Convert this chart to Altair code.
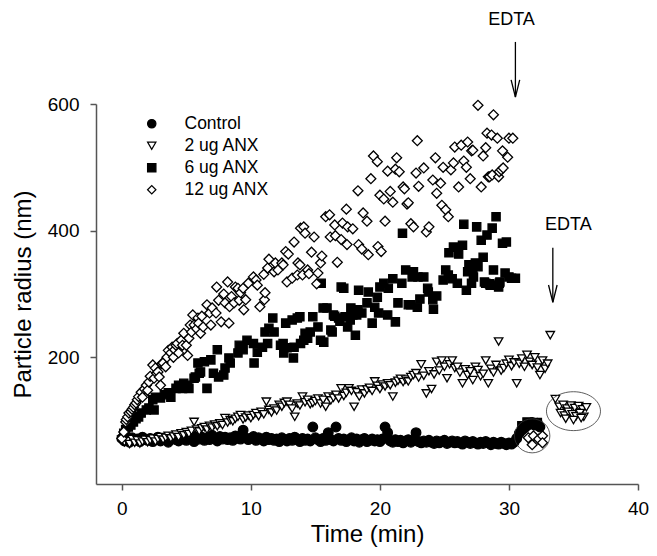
import altair as alt
import pandas as pd

series_names = ["Control", "2 ug ANX", "6 ug ANX", "12 ug ANX"]
series_shapes = ["circle", "triangle-down", "square", "diamond"]
series_fills = ["black", "white", "black", "white"]
marker_sizes = {"Control": 92, "2 ug ANX": 72, "6 ug ANX": 68, "12 ug ANX": 98}

# shared sampling times (min) for Control and 2 ug ANX
grid_t = [
    0.0, 0.2, 0.4, 0.6, 0.8, 1.0, 1.2, 1.4, 1.6, 1.8,
    2.0, 2.2, 2.4, 2.6, 2.8, 3.0, 3.2, 3.4, 3.6, 3.8,
    4.0, 4.2, 4.4, 4.6, 4.8, 5.0, 5.2, 5.4, 5.6, 5.8,
    6.0, 6.2, 6.4, 6.6, 6.8, 7.0, 7.2, 7.4, 7.6, 7.8,
    8.0, 8.2, 8.4, 8.6, 8.8, 9.0, 9.2, 9.4, 9.6, 9.8,
    10.0, 10.2, 10.4, 10.6, 10.8, 11.0, 11.2, 11.4, 11.6, 11.8,
    12.0, 12.2, 12.4, 12.6, 12.8, 13.0, 13.2, 13.4, 13.6, 13.8,
    14.0, 14.2, 14.4, 14.6, 14.8, 15.0, 15.2, 15.4, 15.6, 15.8,
    16.0, 16.2, 16.4, 16.6, 16.8, 17.0, 17.2, 17.4, 17.6, 17.8,
    18.0, 18.2, 18.4, 18.6, 18.8, 19.0, 19.2, 19.4, 19.6, 19.8,
    20.0, 20.2, 20.4, 20.6, 20.8, 21.0, 21.2, 21.4, 21.6, 21.8,
    22.0, 22.2, 22.4, 22.6, 22.8, 23.0, 23.2, 23.4, 23.6, 23.8,
    24.0, 24.2, 24.4, 24.6, 24.8, 25.0, 25.2, 25.4, 25.6, 25.8,
    26.0, 26.2, 26.4, 26.6, 26.8, 27.0, 27.2, 27.4, 27.6, 27.8,
    28.0, 28.2, 28.4, 28.6, 28.8, 29.0, 29.2, 29.4, 29.6, 29.8,
    30.0, 30.2, 30.4,
]

control_r = [
    72, 68, 70, 66, 73, 69, 71, 67, 74, 70,
    69, 72, 67, 71, 74, 68, 70, 73, 66, 71,
    73, 70, 68, 75, 71, 69, 74, 72, 67, 76,
    71, 74, 69, 73, 70, 77, 72, 68, 75, 71,
    74, 70, 73, 69, 76, 72, 71, 85, 73, 70,
    72, 75, 69, 73, 71, 68, 74, 70, 72, 69,
    71, 67, 73, 70, 68, 72, 69, 74, 70, 67,
    72, 69, 71, 68, 90, 73, 70, 67, 72, 69,
    81, 70, 68, 90, 72, 69, 71, 67, 70, 73,
    68, 71, 66, 70, 72, 67, 69, 71, 68, 70,
    67, 71, 90, 81, 68, 66, 70, 67, 69, 65,
    68, 70, 66, 69, 81, 67, 65, 68, 66, 69,
    66, 64, 68, 65, 67, 69, 64, 66, 68, 65,
    67, 65, 63, 68, 66, 64, 67, 65, 63, 66,
    64, 67, 65, 62, 66, 64, 63, 66, 64, 62,
    65, 63, 66,
]
control_post_t = [30.6, 30.8, 31.0, 31.2, 31.4, 31.6, 31.8, 32.0, 32.2, 32.4]
control_post_r = [72, 80, 85, 88, 92, 95, 97, 93, 96, 90]

ug2_r = [
    70, 66, 68, 63, 71, 65, 69, 64, 67, 70,
    66, 69, 72, 67, 71, 74, 70, 73, 76, 72,
    75, 78, 74, 80, 77, 82, 79, 84, 98, 86,
    83, 88, 90, 86, 92, 89, 94, 91, 96, 93,
    104, 97, 101, 99, 103, 106, 109, 102, 105, 108,
    104, 109, 112, 107, 114, 110, 130, 117, 113, 119,
    116, 125, 122, 128, 130, 125, 119, 106, 127, 124,
    138, 129, 133, 126, 128, 131, 135, 127, 133, 122,
    138, 132, 136, 141, 135, 151, 139, 144, 151, 147,
    122, 145, 138, 149, 143, 149, 152, 147, 162, 155,
    150, 157, 154, 159, 156, 138, 160, 163, 166, 161,
    165, 162, 169, 172, 175, 168, 189, 171, 143, 178,
    150, 173, 193, 179, 195, 185, 167, 189, 195, 183,
    185, 176, 159, 181, 172, 178, 164, 185, 180, 170,
    174, 195, 159, 182, 176, 188, 225, 179, 183, 190,
    196, 186, 192,
]
ug2_late_t = [30.6, 30.8, 31.0, 31.2, 31.4, 31.6, 31.8, 32.0, 32.2, 32.4, 32.6, 32.8, 33.0, 33.2]
ug2_late_r = [159, 190, 198, 185, 204, 193, 188, 200, 184, 172, 195, 182, 190, 235]
ug2_post_t = [33.6, 33.9, 34.2, 34.5, 34.8, 35.1, 35.4, 35.7, 36.0,
              34.0, 34.3, 34.6, 34.9, 35.2, 35.5, 35.8, 34.4, 35.0, 35.6]
ug2_post_r = [134, 122, 125, 119, 124, 120, 123, 118, 121,
              112, 108, 114, 110, 107, 112, 106, 103, 101, 104]

ug6_t = [
    0.15, 0.3, 0.5, 0.7, 0.9, 1.1, 1.3, 1.5, 1.9, 2.1, 2.5, 2.4, 2.6, 3.0, 3.3, 3.6, 3.8,
    4.2, 4.4, 4.7, 4.8, 5.1, 5.2, 5.6, 5.7, 5.9, 6.0, 6.1, 6.4, 6.6, 6.9, 7.1, 7.4, 7.5,
    7.9, 8.0, 8.3, 8.4, 9.0, 9.1, 9.4, 9.7, 10.2, 10.25, 10.5, 10.9, 11.1, 11.3, 11.4,
    11.7, 11.8, 12.3, 12.5, 12.55, 12.7, 12.8, 13.2, 13.3, 13.35, 13.6, 13.8, 13.85,
    14.1, 14.2, 14.4, 14.6, 14.8, 15.2, 15.4, 15.45, 15.6, 15.65, 15.9, 16.2, 16.3,
    16.4, 16.5, 16.8, 16.9, 17.0, 17.2, 17.3, 17.5, 17.7, 17.75, 17.9, 18.1, 18.2, 18.3,
    18.35, 18.6, 19.0, 19.1, 19.4, 19.6, 19.8, 19.9, 20.0, 20.3, 20.6, 20.65, 21.0,
    21.2, 21.4, 21.7, 21.75, 22.0, 22.2, 22.4, 22.5, 22.6, 22.9, 22.95, 23.1, 23.4,
    23.7, 23.75, 24.1, 24.15, 24.4, 24.9, 25.1, 25.3, 25.35, 25.6, 25.7, 26.0, 26.1,
    26.4, 26.5, 26.7, 26.8, 26.9, 27.1, 27.15, 27.2, 27.25, 27.4, 27.5, 27.6, 27.85,
    28.0, 28.1, 28.2, 28.3, 28.5, 28.55, 28.7, 28.8, 29.0, 29.2, 29.25, 29.3, 29.5,
    29.7, 29.8, 30.0, 30.2, 30.5,
]
ug6_r = [
    80, 86, 90, 93, 98, 103, 106, 112, 117, 120, 117, 133, 137, 136, 141, 144, 137,
    151, 156, 151, 159, 156, 151, 167, 169, 191, 175, 177, 193, 151, 196, 175, 212, 169,
    172, 183, 199, 191, 207, 219, 212, 227, 222, 191, 208, 216, 240, 222, 246,
    262, 240, 219, 222, 207, 254, 215, 259, 199, 216, 262, 264, 222,
    227, 238, 230, 240, 264, 248, 227, 317, 278, 224, 278, 243, 240,
    267, 265, 262, 257, 311, 309, 264, 248, 259, 278, 267, 235, 267, 275,
    306, 270, 286, 303, 254, 279, 295, 270, 311, 317, 267, 309, 324,
    256, 286, 317, 396, 338, 283, 283, 327, 335, 279, 327, 292, 327,
    309, 303, 291, 276, 297, 322, 338, 330, 365, 324, 374, 317, 363,
    377, 410, 306, 335, 346, 317, 338, 341, 327, 349, 406, 343, 385,
    358, 319, 317, 393, 316, 314, 404, 338, 422, 311, 317, 319, 380,
    333, 382, 327, 325, 325,
]
ug6_post_t = [31.0, 31.4, 31.8, 32.2]
ug6_post_r = [92, 98, 94, 97]

ug12_t = [
    0.0, 0.15, 0.3, 0.35, 0.45, 0.55, 0.7, 0.8, 0.9, 1.0, 1.1, 1.2, 1.3, 1.5, 1.6, 1.75,
    1.9, 2.0, 2.1, 2.2, 2.4, 2.5, 2.6, 2.7, 2.8, 2.9, 3.0, 3.1, 3.2, 3.4, 3.5, 3.6, 3.8,
    3.9, 4.0, 4.1, 4.2, 4.3, 4.4, 4.6, 4.7, 4.8, 5.0, 5.1, 5.2, 5.3, 5.4, 5.5, 5.6, 5.8,
    5.9, 5.95, 6.1, 6.2, 6.3, 6.6, 6.8, 6.9, 7.0, 7.3, 7.35, 7.5, 7.7, 7.9, 8.0, 8.2,
    8.3, 8.35, 8.5, 8.7, 8.8, 9.0, 9.1, 9.2, 9.4, 9.45, 9.6, 9.8, 10.2, 10.4, 10.5,
    10.7, 11.0, 11.05, 11.1, 11.3, 11.4, 11.8, 11.9, 12.1, 12.4, 12.5, 12.7, 12.8,
    12.9, 13.2, 13.35, 13.6, 13.65, 13.8, 13.85, 14.0, 14.1, 14.2, 14.4, 14.5, 14.7,
    14.9, 15.1, 15.2, 15.4, 15.5, 15.8, 16.1, 16.15, 16.5, 16.55, 16.7, 17.0, 17.1,
    17.4, 17.45, 17.5, 17.9, 18.3, 18.35, 18.6, 18.7, 19.0, 19.1, 19.3, 19.5, 19.8,
    19.85, 20.0, 20.1, 20.3, 20.4, 20.6, 20.8, 21.0, 21.2, 21.3, 21.5, 21.8, 21.9,
    22.1, 22.2, 22.4, 22.6, 22.8, 22.9, 23.0, 23.4, 23.6, 23.8, 24.1, 24.3, 24.4,
    24.7, 24.8, 24.9, 25.1, 25.3, 25.5, 25.7, 25.8, 26.1, 26.3, 26.5, 26.7, 26.8,
    27.0, 27.1, 27.2, 27.6, 27.85, 28.0, 28.2, 28.3, 28.4, 28.5, 28.65, 28.7, 28.8,
    29.1, 29.2, 29.25, 29.4, 29.5, 29.55, 29.9, 30.0, 30.3,
]
ug12_r = [
    72, 82, 98, 102, 106, 112, 114, 118, 121, 125, 128, 133, 138, 145, 137, 150,
    156, 148, 161, 170, 188, 167, 183, 175, 177, 169, 156, 190, 191, 185, 200, 211, 207,
    216, 200, 212, 219, 222, 207, 227, 219, 238, 219, 203, 230, 251, 240, 267, 251, 245,
    262, 254, 238, 265, 248, 283, 270, 251, 278, 270, 311, 290, 256, 300, 286, 319,
    254, 280, 296, 286, 311, 309, 290, 302, 309, 275, 291, 317, 327, 322, 314,
    280, 331, 291, 302, 341, 355, 335, 349, 338, 349, 346, 367, 319,
    363, 325, 382, 330, 349, 346, 404, 330, 406, 396, 338, 332, 366,
    390, 316, 333, 349, 360, 422, 425, 390, 409, 392, 350, 386, 412,
    434, 378, 406, 403, 463, 378, 371, 428, 415, 362, 482, 518, 509,
    375, 456, 367, 450, 415, 494, 462, 445, 497, 515, 493, 469, 466,
    442, 444, 411, 406, 491, 542, 470, 499, 398, 406, 480, 515, 459,
    475, 440, 500, 433, 422, 496, 507, 532, 469, 535, 510, 500, 540,
    482, 526, 527, 598, 469, 518, 531, 554, 485, 485, 551, 488, 583,
    546, 485, 493, 496, 526, 499, 516, 546, 546,
]
ug12_post_t = [31.5, 31.8, 31.9, 32.3, 32.6, 32.6]
ug12_post_r = [73, 62, 76, 71, 76, 65]

# annotations (data units)
arrow_x = [30.5, 33.4]
arrow_top = [698, 373]
arrow_tip = [611, 287]
label_x = [30.2, 34.6]
label_y = [733, 409]
label_text = ["EDTA", "EDTA"]
ellipse_x = [31.8, 35.0]
ellipse_y = [76, 115]

FONT = "Liberation Sans"

rows = []
def add(name, ts, rs):
    for t, r in zip(ts, rs):
        rows.append({"t": t, "r": r, "series": name, "sz": marker_sizes[name]})

add("Control", grid_t, control_r)
add("Control", control_post_t, control_post_r)
add("2 ug ANX", grid_t, ug2_r)
add("2 ug ANX", ug2_late_t, ug2_late_r)
add("2 ug ANX", ug2_post_t, ug2_post_r)
add("6 ug ANX", ug6_t, ug6_r)
add("6 ug ANX", ug6_post_t, ug6_post_r)
add("12 ug ANX", ug12_t, ug12_r)
add("12 ug ANX", ug12_post_t, ug12_post_r)
df = pd.DataFrame(rows)

xscale = alt.Scale(domain=[-2, 40], nice=False, zero=False)
yscale = alt.Scale(domain=[0, 600], nice=False, zero=False)

xaxis = alt.Axis(values=[0, 10, 20, 30, 40], title="Time (min)", grid=False,
                 tickSize=6, labelPadding=9, titlePadding=4, labelFlush=False,
                 labelOverlap=False)
yaxis = alt.Axis(values=[200, 400, 600], title="Particle radius (nm)", grid=False,
                 tickSize=6, labelPadding=11, titlePadding=12, labelOverlap=False)

leg = alt.Legend(title=None, orient="none", legendX=47, legendY=11, padding=0,
                 labelFont=FONT, labelFontSize=17.5, labelColor="black",
                 symbolSize=70, symbolStrokeWidth=1.2, labelOffset=24,
                 rowPadding=3, symbolOpacity=1)

points = alt.Chart(df).mark_point(
    filled=True, strokeWidth=1.3, opacity=1
).encode(
    x=alt.X("t:Q", scale=xscale, axis=xaxis),
    y=alt.Y("r:Q", scale=yscale, axis=yaxis),
    shape=alt.Shape("series:N", scale=alt.Scale(domain=series_names, range=series_shapes), legend=leg),
    fill=alt.Fill("series:N", scale=alt.Scale(domain=series_names, range=series_fills), legend=leg),
    stroke=alt.Stroke("series:N", scale=alt.Scale(domain=series_names, range=["black"] * 4), legend=leg),
    size=alt.Size("sz:Q", scale=None),
)

ell_df = pd.DataFrame({"x": ellipse_x, "y": ellipse_y})
ell1 = alt.Chart(ell_df.iloc[[0]]).mark_point(
    shape="M -1 0 A 1 0.96 0 1 0 1 0 A 1 0.96 0 1 0 -1 0",
    filled=False, stroke="#333333", strokeWidth=0.8, opacity=1, size=1253
).encode(x=alt.X("x:Q", scale=xscale), y=alt.Y("y:Q", scale=yscale))
ell2 = alt.Chart(ell_df.iloc[[1]]).mark_point(
    shape="M -1 0 A 1 0.72 0 1 0 1 0 A 1 0.72 0 1 0 -1 0",
    filled=False, stroke="#333333", strokeWidth=0.8, opacity=1, size=2916
).encode(x=alt.X("x:Q", scale=xscale), y=alt.Y("y:Q", scale=yscale))

arr_df = pd.DataFrame({"x": arrow_x, "top": arrow_top, "tip": arrow_tip})
shafts = alt.Chart(arr_df).mark_rule(color="black", strokeWidth=1.3).encode(
    x=alt.X("x:Q", scale=xscale), y=alt.Y("top:Q", scale=yscale), y2="tip:Q"
)
heads = alt.Chart(arr_df).mark_point(
    shape="M -1 -4 L 0 0 L 1 -4", filled=False, stroke="black",
    strokeWidth=1.3, opacity=1, size=74
).encode(x=alt.X("x:Q", scale=xscale), y=alt.Y("tip:Q", scale=yscale))

lab_df = pd.DataFrame({"x": label_x, "y": label_y, "text": label_text})
labels = alt.Chart(lab_df).mark_text(
    font=FONT, fontSize=18, color="black", align="center", baseline="middle"
).encode(x=alt.X("x:Q", scale=xscale), y=alt.Y("y:Q", scale=yscale), text="text:N")

chart = alt.layer(points, ell1, ell2, shafts, heads, labels).properties(
    width=542, height=380,
    autosize=alt.AutoSizeParams(type="none"),
    padding={"left": 88, "top": 96, "right": 11, "bottom": 64},
).configure_view(stroke=None).configure_axis(
    labelFont=FONT, titleFont=FONT, labelFontSize=19, titleFontSize=24,
    titleFontWeight="normal", labelColor="black", titleColor="black",
    domainColor="#555555", tickColor="#555555", domainWidth=1.5, tickWidth=1.5,
)

chart.save("out.html", embed_options={"renderer": "svg", "actions": False})
